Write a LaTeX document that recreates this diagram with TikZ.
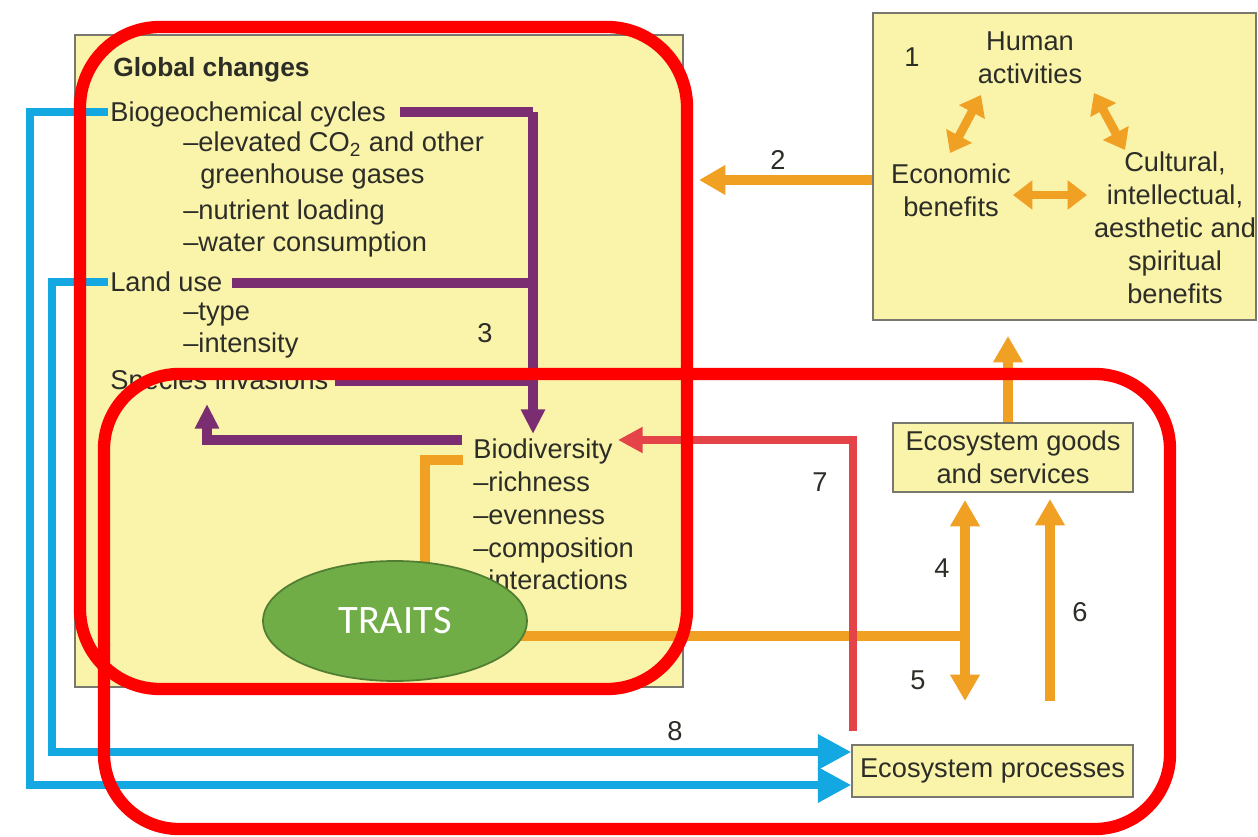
\documentclass[tikz,border=0pt]{standalone}
\usepackage{fontspec}
\setmainfont{Liberation Sans}
\newfontfamily\traitsfont{Carlito}
\usetikzlibrary{arrows.meta,shapes.geometric}

\definecolor{boxfill}{RGB}{250,243,170}
\definecolor{boxline}{RGB}{120,120,110}
\definecolor{textcol}{RGB}{45,45,40}
\definecolor{purp}{RGB}{122,45,112}
\definecolor{orng}{RGB}{240,160,35}
\definecolor{redarrow}{RGB}{228,68,72}
\definecolor{blu}{RGB}{20,168,226}
\definecolor{outline}{RGB}{255,0,0}
\definecolor{traitfill}{RGB}{112,173,71}
\definecolor{traitline}{RGB}{80,126,50}

\begin{document}
\begin{tikzpicture}[x=0.02cm,y=-0.02cm,
  txt/.style={font=\fontsize{15.5}{18.8}\selectfont, inner sep=0pt, text=textcol},
  lbl/.style={txt, anchor=base west},
  num/.style={txt},
  panel/.style={draw=boxline, fill=boxfill, line width=0.8pt},
  purpline/.style={draw=purp, line width=5.2pt},
  purparrow/.style={purpline, -{Triangle[length=14pt,width=13pt]}},
  orline/.style={draw=orng, line width=5.5pt},
  orarrow/.style={orline, -{Triangle[length=15pt,width=16pt]}},
  ordouble/.style={orline, {Triangle[length=15pt,width=16pt]}-{Triangle[length=15pt,width=16pt]}},
  smalldouble/.style={draw=orng, line width=5pt, {Triangle[length=11pt,width=16pt]}-{Triangle[length=11pt,width=16pt]}},
  redarr/.style={draw=redarrow, line width=5pt, -{Triangle[length=14pt,width=14pt]}},
  bluarrow/.style={draw=blu, line width=4.6pt, line cap=rect, -{Triangle[length=19pt,width=19pt]}},
  redbox/.style={draw=outline, line width=7pt}
]
\useasboundingbox (0,0) rectangle (1258,837);
\fill[white] (0,0) rectangle (1258,837);

% panels
\node[panel, minimum width=12.16cm, minimum height=13.04cm] (gc) at (379,361) {};
\node[panel, minimum width=7.66cm, minimum height=6.14cm] (ha) at (1064.5,166.5) {};
\node[panel, txt, align=center, minimum width=4.8cm, minimum height=1.38cm] (goods) at (1013,457.5) {Ecosystem goods\\and services};
\node[panel, txt, minimum width=5.62cm, minimum height=1.04cm] (proc) at (992.5,771) {Ecosystem processes};

% global changes list
\node[lbl, font=\bfseries\fontsize{15}{18}\selectfont] (gtitle) at (113,77) {Global changes};
\node[lbl] (bgc) at (110,122) {Biogeochemical cycles};
\node[lbl] (co2) at (183,152) {--elevated CO\textsubscript{2} and other};
\node[lbl] (ghg) at (200,184) {greenhouse gases};
\node[lbl] (nut) at (183,220) {--nutrient loading};
\node[lbl] (wat) at (183,252) {--water consumption};
\node[lbl] (land) at (110,292) {Land use};
\node[lbl] (typ) at (183,321) {--type};
\node[lbl] (ints) at (183,353) {--intensity};
\node[lbl] (spec) at (110,390) {Species invasions};

% biodiversity list
\node[lbl] (bio) at (473,459) {Biodiversity};
\node[lbl] (rich) at (473,492) {--richness};
\node[lbl] (even) at (473,525) {--evenness};
\node[lbl] (comp) at (473,558) {--composition};
\node[lbl] (inter) at (473,590) {--interactions};

% human activities panel
\node[num] (n1) at (912,57) {1};
\node[txt, align=center] (hum) at (1030,58) {Human\\activities};
\node[txt, align=center] (eco) at (951,190) {Economic\\benefits};
\node[txt, align=center] (cult) at (1175,228) {Cultural,\\intellectual,\\aesthetic and\\spiritual\\benefits};
\draw[smalldouble] (950,153) -- (981,95);
\draw[smalldouble] (1094,93) -- (1125,150);
\draw[smalldouble] (1013,195) -- (1087,195);

% numbers
\node[num] (n2) at (778,160) {2};
\node[num] (n3) at (485,333) {3};
\node[num] (n4) at (942,568) {4};
\node[num] (n5) at (918,680) {5};
\node[num] (n6) at (1080,612) {6};
\node[num] (n7) at (820,482) {7};
\node[num] (n8) at (675,731) {8};

% blue connectors from global changes to ecosystem processes
\coordinate (b1) at (104,112);
\coordinate (b2) at (104,282);
\draw[bluarrow] (b1) -- (30,112) -- (30,785) -- (proc.west |- 0,785);
\draw[bluarrow] (b2) -- (52,282) -- (52,752) -- (proc.west |- 0,752);

% purple connectors (3)
\coordinate (pj) at (533,112);
\draw[purpline] (400,112) -- (pj);
\draw[purpline] (232,283) -- (533,283);
\draw[purpline] (335,381) -- (533,381);
\draw[purparrow] (pj) -- (533,434);
\draw[purparrow] (462,440) -- (207,440) -- (207,404);

% orange connectors
\draw[orarrow] (ha.west |- 0,180) -- (699,180);
\draw[orarrow] (goods.north -| 1008,0) -- (1008,336);
\coordinate (oj) at (965,636);
\draw[orline] (463,460) -- (425,460) -- (425,636) -- (oj);
\draw[ordouble] (965,701) -- (965,500);
\draw[orarrow] (1050,701) -- (1050,499);

% red connector (7)
\draw[redarr] (853,731) -- (853,440) -- (618,440);

% traits
\node[ellipse, draw=traitline, line width=1pt, fill=traitfill, minimum width=5.28cm, minimum height=2.4cm,
  text=white, font=\traitsfont\fontsize{23}{26}\selectfont] (traits) at (395,621) {TRAITS};

% highlight outlines
\draw[redbox, rounded corners=1.6cm] (80,27) rectangle (687,689);
\draw[redbox, rounded corners=1.5cm] (104,374) rectangle (1170,829);
\end{tikzpicture}
\end{document}
